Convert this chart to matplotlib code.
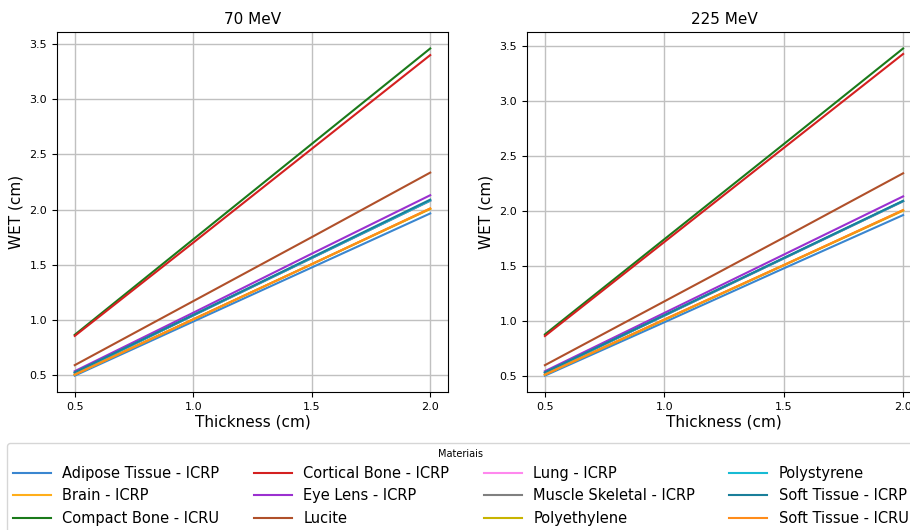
import matplotlib.pyplot as plt

thickness = [0.5, 1.0, 1.5, 2.0]

materials = ['Adipose Tissue - ICRP', 'Brain - ICRP', 'Compact Bone - ICRU',
             'Cortical Bone - ICRP', 'Eye Lens - ICRP', 'Lucite', 'Lung - ICRP',
             'Muscle Skeletal - ICRP', 'Polyethylene', 'Polystyrene',
             'Soft Tissue - ICRP', 'Soft Tissue - ICRU']

colors = ['#3a86d0', '#ffae1a', '#1a7a1a', '#d42020', '#9b30d0', '#b0502a',
          '#ff88ee', '#808080', '#c8b400', '#17bbd4', '#1a7f9a', '#ff8c1a']

# WET values (cm) per material
wet_70 = [
    [0.495, 0.985, 1.475, 1.965],
    [0.505, 1.005, 1.505, 2.01],
    [0.865, 1.73, 2.595, 3.46],
    [0.855, 1.70, 2.55, 3.40],
    [0.535, 1.065, 1.60, 2.13],
    [0.59, 1.17, 1.75, 2.335],
    [0.52, 1.04, 1.56, 2.08],
    [0.52, 1.04, 1.56, 2.08],
    [0.505, 1.005, 1.505, 2.005],
    [0.52, 1.042, 1.562, 2.082],
    [0.525, 1.045, 1.567, 2.09],
    [0.505, 1.005, 1.505, 2.01],
]

wet_225 = [
    [0.505, 0.99, 1.48, 1.965],
    [0.515, 1.015, 1.51, 2.01],
    [0.88, 1.745, 2.61, 3.48],
    [0.865, 1.72, 2.575, 3.43],
    [0.545, 1.075, 1.605, 2.135],
    [0.60, 1.18, 1.76, 2.345],
    [0.53, 1.05, 1.57, 2.09],
    [0.53, 1.05, 1.57, 2.09],
    [0.515, 1.012, 1.508, 2.005],
    [0.532, 1.052, 1.572, 2.092],
    [0.535, 1.055, 1.575, 2.095],
    [0.515, 1.015, 1.51, 2.01],
]

energies = ['70 MeV', '225 MeV']

fig = plt.figure(figsize=(9.1, 5.3), dpi=100)
ax1 = fig.add_axes([0.0626, 0.2604, 0.4297, 0.679])
# right panel runs past the figure edge, like the cropped original
ax2 = fig.add_axes([0.5791, 0.2604, 0.4330, 0.679])

for ax, data, title in zip([ax1, ax2], [wet_70, wet_225], energies):
    for name, vals, c in zip(materials, data, colors):
        ax.plot(thickness, vals, color=c, lw=1.5, label=name)
    ax.set_title(title, fontsize=11)
    ax.set_xlabel('Thickness (cm)', fontsize=11, labelpad=2)
    ax.set_ylabel('WET (cm)', fontsize=11)
    ax.set_xticks(thickness)
    ax.tick_params(labelsize=8)
    ax.grid(True, color='#c0c0c0', lw=1)

handles, labels = ax1.get_legend_handles_labels()
leg = fig.legend(handles, labels, loc='upper left', bbox_to_anchor=(0.0077, 0.164),
                 bbox_transform=fig.transFigure, ncol=4, fontsize=10.5,
                 title='Materiais', title_fontsize=7, handlelength=2.6,
                 columnspacing=2.35, borderaxespad=0, frameon=True)

fig.savefig('out.png', dpi=100)
